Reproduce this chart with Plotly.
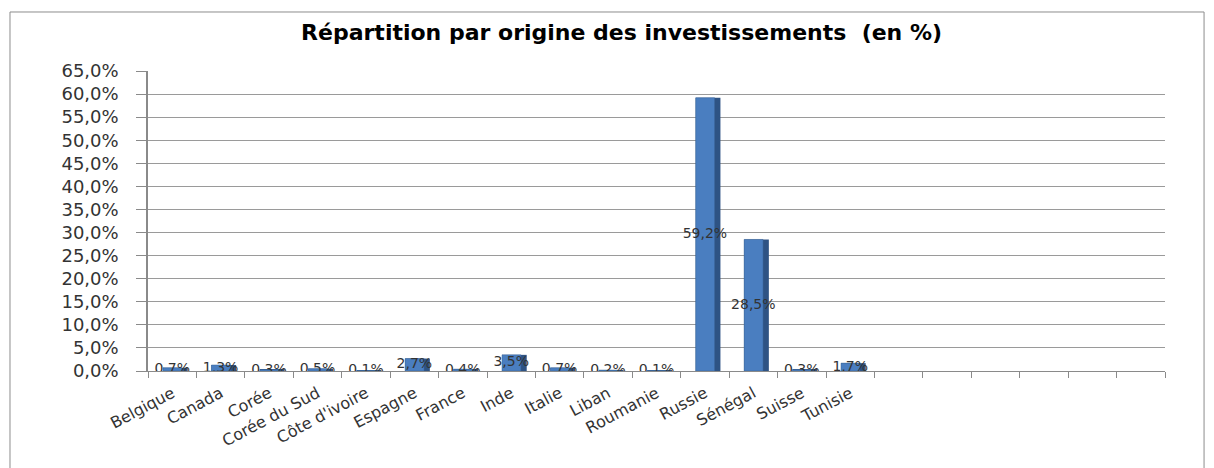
import plotly.graph_objects as go

categories = ["Belgique", "Canada", "Corée", "Corée du Sud", "Côte d'ivoire", "Espagne",
              "France", "Inde", "Italie", "Liban", "Roumanie", "Russie", "Sénégal",
              "Suisse", "Tunisie"]
values = [0.7, 1.3, 0.3, 0.5, 0.1, 2.7, 0.4, 3.5, 0.7, 0.2, 0.1, 59.2, 28.5, 0.3, 1.7]
n_slots = 21  # 15 labelled categories + 6 empty slots on the axis
y_ticks = [0, 5, 10, 15, 20, 25, 30, 35, 40, 45, 50, 55, 60, 65]

title = "Répartition par origine des investissements  (en %)"

xs = list(range(len(categories)))
fmt = lambda v: f"{v:.1f}".replace(".", ",") + "%"
labels = [fmt(v) for v in values]
y_ticktext = [fmt(v) for v in y_ticks]
mid = [v / 2 for v in values]

FONT = "DejaVu Sans, Liberation Sans, Arial, sans-serif"

fig = go.Figure()
# side face (depth effect)
fig.add_trace(go.Bar(x=xs, y=values, width=0.51, offset=-0.19,
                     marker=dict(color="#2E5384", line=dict(width=0)),
                     hoverinfo="skip", showlegend=False))
# front face
fig.add_trace(go.Bar(x=xs, y=values, width=0.39, offset=-0.19,
                     marker=dict(color="#4A7EC0", line=dict(color="#3A6597", width=0.5)),
                     showlegend=False))
# data labels
fig.add_trace(go.Scatter(x=xs, y=mid, mode="text", text=labels,
                         textposition="middle center",
                         textfont=dict(family=FONT, size=14, color="#333333"),
                         hoverinfo="skip", showlegend=False))

fig.update_layout(
    width=1214, height=468,
    margin=dict(l=148, r=49, t=71, b=97),
    paper_bgcolor="white", plot_bgcolor="white",
    barmode="overlay",
    title=dict(text=f"<b>{title}</b>", x=0.512, xanchor="center", y=0.93, yanchor="middle",
               font=dict(family=FONT, size=22, color="black")),
    font=dict(family=FONT, color="#333333"),
    xaxis=dict(range=[-0.5, n_slots - 0.5], tickmode="array", tickvals=xs, ticktext=categories,
               tickangle=-28, tickfont=dict(size=16, color="#333333"), ticklen=0,
               ticklabelstandoff=6,
               showgrid=False, showline=True, linecolor="#8a8a8a", linewidth=1,
               minor=dict(ticks="outside", tick0=-0.5, dtick=1, ticklen=6, tickcolor="#8a8a8a"),
               zeroline=False),
    yaxis=dict(range=[0, 65], tickmode="array", tickvals=y_ticks, ticktext=y_ticktext,
               tickfont=dict(size=18, color="#333333"), ticks="outside", ticklen=10,
               ticklabelstandoff=14,
               tickcolor="#8a8a8a", showline=True, linecolor="#8a8a8a", linewidth=1.5,
               showgrid=True, gridcolor="#9a9a9a", gridwidth=1, zeroline=False),
    shapes=[dict(type="rect", xref="paper", yref="paper",
                 x0=-0.1357, x1=1.0384, y0=-0.34, y1=1.1967,
                 line=dict(color="#8c8c8c", width=1), fillcolor="rgba(0,0,0,0)", layer="below")],
)

fig.write_html("out.html")
